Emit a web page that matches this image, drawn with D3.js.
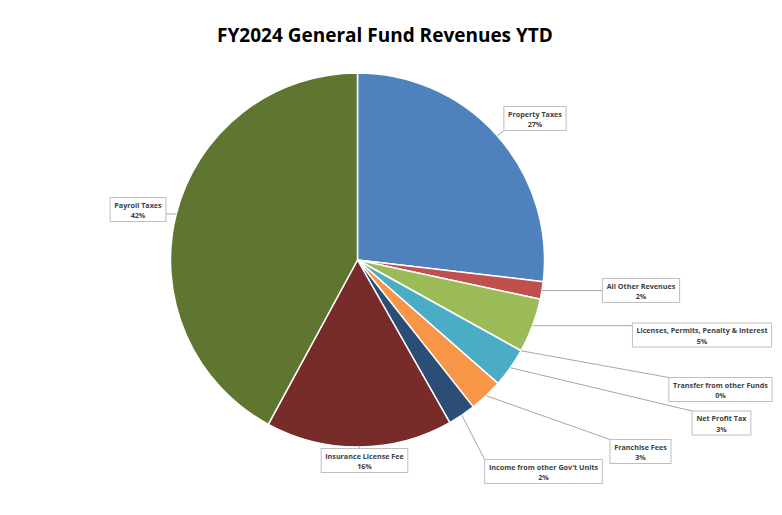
<!DOCTYPE html>
<html>
<head>
<meta charset="utf-8">
<script src="https://cdn.jsdelivr.net/npm/d3@7"></script>
<style>
  body { margin: 0; background: #fff; }
  svg { display: block; }
</style>
</head>
<body>
<div id="chart"></div>
<script>
// Data (clockwise from 12 o'clock)
const categories = [
    "Property Taxes", "All Other Revenues", "Licenses, Permits, Penalty & Interest",
    "Transfer from other Funds", "Net Profit Tax", "Franchise Fees",
    "Income from other Gov't Units", "Insurance License Fee", "Payroll Taxes"
];
const values = [26.8, 1.5, 4.7, 0, 3.4, 2.9, 2.4, 16.1, 42.0];
const colors = ["#4F81BD", "#C0504D", "#9BBB59", "#8064A2", "#4BACC6", "#F79646",
                "#2C4D75", "#772C2A", "#5F7530"];

// Label box centres (layout only)
const labelPos = [
    [535, 118.5], [641, 290.5], [702, 335], [720.5, 389.5], [721.5, 423],
    [640.5, 451.5], [543.5, 471.5], [364.5, 460.5], [138, 209.5]
];

const W = 782, H = 515;
const cx = 357.5, cy = 260, R = 187;

const svg = d3.select("#chart")
    .append("svg")
    .attr("width", W)
    .attr("height", H);

// Title
svg.append("text")
    .attr("x", 385)
    .attr("y", 42)
    .attr("text-anchor", "middle")
    .attr("font-family", "'Open Sans', sans-serif")
    .attr("font-weight", "bold")
    .attr("font-size", 19)
    .attr("fill", "#000")
    .text("FY2024 General Fund Revenues YTD");

const total = d3.sum(values);
const pie = d3.pie().sort(null).value(d => d)(values);
const arc = d3.arc().innerRadius(0).outerRadius(R);

const g = svg.append("g").attr("transform", `translate(${cx},${cy})`);

g.selectAll("path.slice")
    .data(pie)
    .join("path")
    .attr("class", "slice")
    .attr("d", arc)
    .attr("fill", (d, i) => colors[i])
    .attr("stroke", "#fff")
    .attr("stroke-width", 1.5)
    .attr("stroke-linejoin", "round");

// Labels with leader lines
const labels = svg.append("g");

pie.forEach((d, i) => {
    const mid = (d.startAngle + d.endAngle) / 2;
    const sx = cx + R * Math.sin(mid);
    const sy = cy - R * Math.cos(mid);
    const [lx, ly] = labelPos[i];
    const pct = Math.round(d.value / total * 100) + "%";

    const lab = labels.append("g");
    const t = lab.append("text")
        .attr("text-anchor", "middle")
        .attr("font-family", "'Open Sans', sans-serif")
        .attr("font-weight", "bold")
        .attr("font-size", 7.2)
        .attr("fill", "#404040");
    t.append("tspan").attr("x", lx).attr("y", ly - 2).text(categories[i]);
    t.append("tspan").attr("x", lx).attr("y", ly + 8.5).text(pct);

    const bb = t.node().getBBox();
    const bw = bb.width + 8, bh = 24;
    const x0 = lx - bw / 2, y0 = ly - bh / 2;

    // nearest point of the box to the slice edge
    const ex = Math.max(x0, Math.min(sx, x0 + bw));
    const ey = Math.max(y0, Math.min(sy, y0 + bh));
    labels.insert("line", ":first-child")
        .attr("x1", sx).attr("y1", sy)
        .attr("x2", ex).attr("y2", ey)
        .attr("stroke", "#A6A6A6")
        .attr("stroke-width", 1);

    lab.insert("rect", "text")
        .attr("x", x0).attr("y", y0)
        .attr("width", bw).attr("height", bh)
        .attr("fill", "#fff")
        .attr("stroke", "#BFBFBF")
        .attr("stroke-width", 1);
});
</script>
</body>
</html>
